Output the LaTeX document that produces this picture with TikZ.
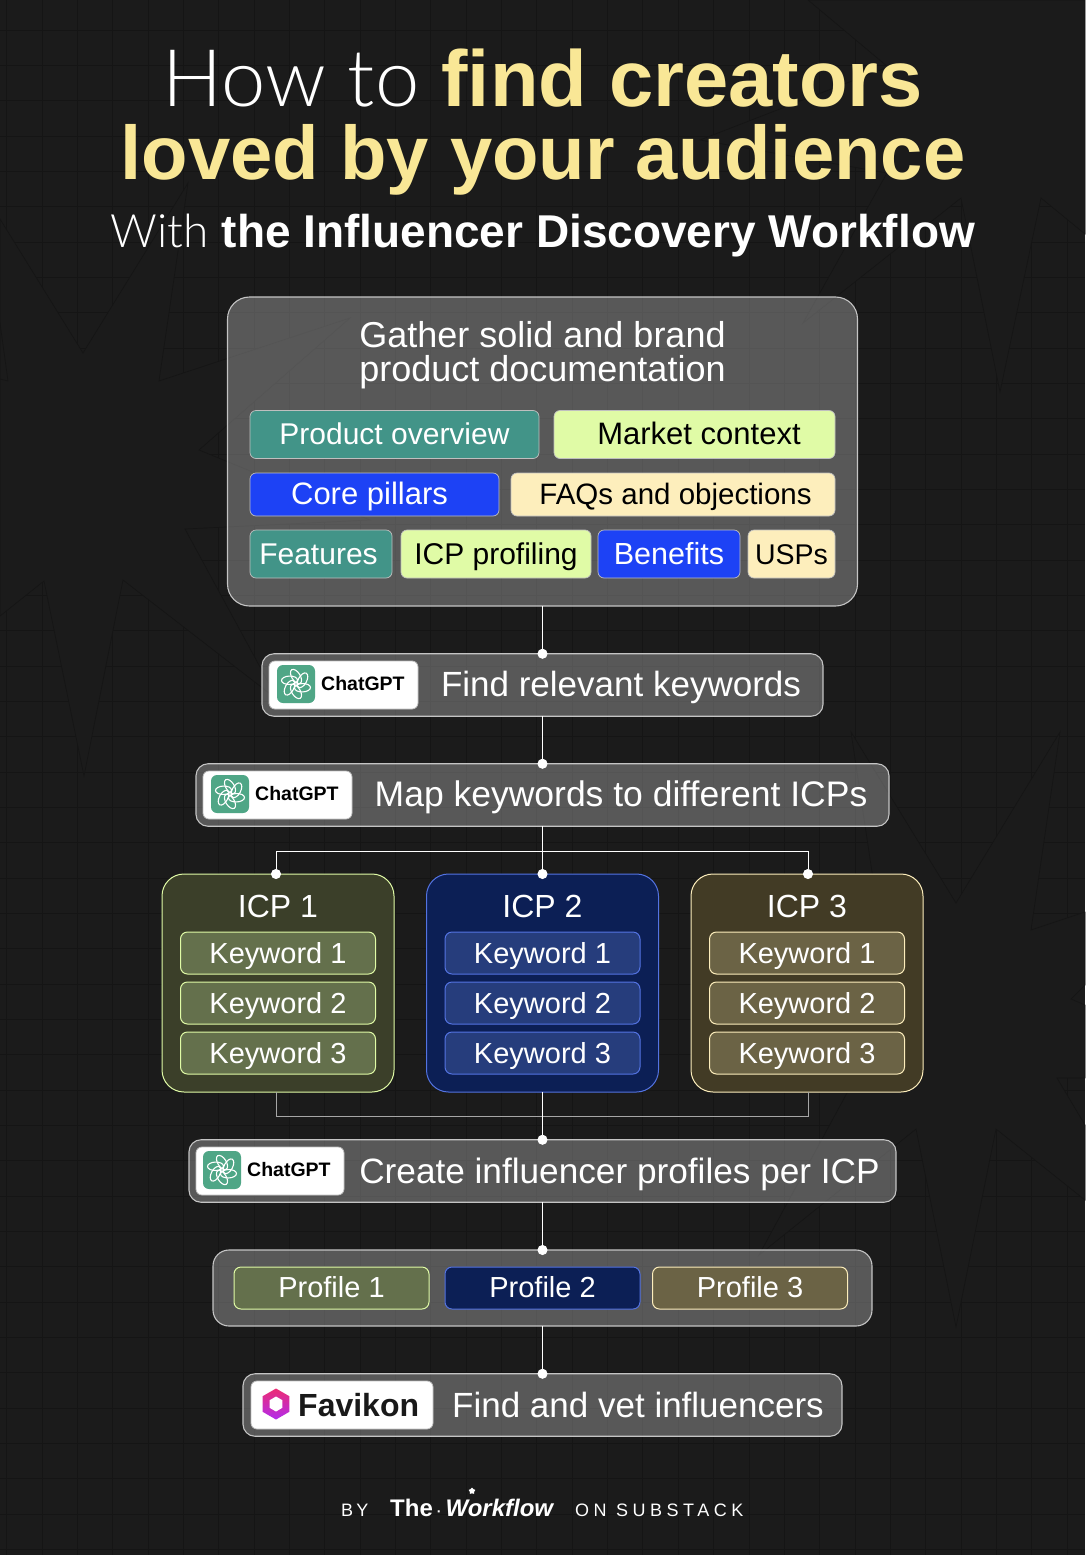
\documentclass[tikz,border=0pt]{standalone}
\usepackage{fontspec}
\setmainfont{Liberation Sans}
\newfontfamily\lightfont{Lato}[UprightFont=* Light]
\usetikzlibrary{arrows.meta, positioning, calc, shapes.geometric}
\definecolor{pagebg}{HTML}{1B1B1B}
\definecolor{gridline}{HTML}{151515}
\definecolor{headyellow}{HTML}{F9E796}
\definecolor{panelline}{HTML}{C4C4C4}
\definecolor{tealtag}{HTML}{429488}
\definecolor{limetag}{HTML}{E0FBA6}
\definecolor{bluetag}{HTML}{1D42F5}
\definecolor{creamtag}{HTML}{FDEEBC}
\definecolor{olivebox}{HTML}{3B3F29}
\definecolor{olivekey}{HTML}{64704C}
\definecolor{navybox}{HTML}{0C1F55}
\definecolor{navykey}{HTML}{263D7C}
\definecolor{navyline}{HTML}{5373E2}
\definecolor{brownbox}{HTML}{423B25}
\definecolor{brownkey}{HTML}{6B6345}
\definecolor{gptgreen}{HTML}{4FA686}
\definecolor{favpink}{HTML}{EC2C74}
\definecolor{favpurple}{HTML}{B22CEC}
\newcommand{\fsize}[1]{\fontsize{#1}{#1}\selectfont}
\begin{document}
\begin{tikzpicture}[
        x=1pt, y=-1pt, node distance=8pt,
        panel/.style={rectangle, draw=panelline, line width=1.1pt, fill=white, fill opacity=.27, text opacity=1, text=white, rounded corners=12pt, outer sep=0pt},
        tag/.style={rectangle, draw=white!75!black, line width=.7pt, rounded corners=6pt, outer sep=0pt, inner sep=0pt, text height=21pt, text depth=1pt},
        teal tag/.style={tag, fill=tealtag, text=white},
        lime tag/.style={tag, fill=limetag, text=black},
        blue tag/.style={tag, fill=bluetag, text=white},
        cream tag/.style={tag, fill=creamtag, text=black},
        icp/.style={rectangle, line width=1pt, rounded corners=22pt, minimum width=232pt, minimum height=218pt, outer sep=0pt},
        keyword/.style={rectangle, line width=1pt, rounded corners=7pt, minimum width=195pt, minimum height=42pt, outer sep=0pt, inner sep=0pt, text=white, text height=21pt, text depth=0pt, font=\fsize{29}},
        chip/.style={rectangle, draw=white!75!black, line width=.8pt, fill=white, rounded corners=6pt, minimum height=48pt, outer sep=0pt},
        steptext/.style={text=white, inner sep=0pt, text height=26pt, text depth=1pt},
        gptname/.style={font=\fsize{19.5}\bfseries, inner sep=0pt, anchor=west},
        wire/.style={draw=white, line width=.8pt},
        dotted wire/.style={wire, -{Circle[length=10pt]}, shorten >=-5pt},
        ridge/.style={draw=gridline, line width=.7pt, fill=pagebg},
        gptlogo/.pic={
            \fill[gptgreen, rounded corners=6pt] (-19,-19) rectangle (19,19);
            \foreach \a in {0,60,...,300}
                \draw[white, line width=1.1pt, rotate=\a, rotate around={32:(0,-7.5)}] (0,-7.5) ellipse [x radius=4.2, y radius=8];
        }
    ]
    \useasboundingbox (0,0) rectangle (1085,1555);
    \fill[pagebg] (0,0) rectangle (1085,1555);

    % background
    \foreach \gx in {6.5,41.85,...,1085}
        \draw[gridline, line width=.7pt] (\gx,0) -- (\gx,1555);
    \foreach \gy in {-5.3,30.03,...,1555}
        \draw[gridline, line width=.7pt] (0,\gy) -- (1085,\gy);
    \draw[ridge] (0,219) -- (83,353) -- (188,183) -- (159,381) -- (350,318) -- (199,450) -- (370,520) -- (185,529) -- (278,700) -- (123,580) -- (84,776) -- (44,581) -- (0,616) -- cycle;
    \draw[ridge] (808,0) -- (888,67) -- (700,140) -- (887,173) -- (803,323) -- (961,198) -- (1000,392) -- (1041,198) -- (1085,234) -- (1085,0) -- cycle;
    \draw[ridge] (851,732) -- (956,903) -- (1060,732) -- (1031,930) -- (1085,912) -- (1085,985) -- (1071,999) -- (1085,1005) -- (1085,1078) -- (1057,1078) -- (1085,1125) -- (1085,1200) -- (996,1129) -- (956,1327) -- (916,1129) -- (759,1255) -- (847,1093) -- (893,1012) -- cycle;
    \draw[ridge, fill=none] (0,323) -- (8,381) -- (0,379);

    % heading
    \node[text=white, font=\fsize{79.5}, inner sep=0pt, anchor=base] (line1) at (543,106) {{\lightfont How to} \textcolor{headyellow}{\textbf{find creators}}};
    \node[text=headyellow, font=\fsize{76}\bfseries, inner sep=0pt, anchor=base] (line2) at (543,179) {loved by your audience};
    \node[text=white, font=\fsize{46}, inner sep=0pt, anchor=base] (subline) at (543,247) {{\lightfont With} \textbf{the Influencer Discovery Workflow}};

    % documentation
    \node[panel, rounded corners=22pt, minimum width=630pt, minimum height=309pt] (docs) at (542.5,451.5) {};
    \node[text=white, font=\fsize{36}, align=center, inner sep=0pt] (docstitle) at (542.5,355) {Gather solid and brand\\[-2pt]product documentation};
    \node[teal tag, font=\fsize{30}, minimum width=289pt, minimum height=48pt] (overview) at (394.5,434.5) {Product overview};
    \node[lime tag, font=\fsize{31}, minimum width=281pt, minimum height=48pt, right=15pt of overview] (market) {\kern9pt Market context};
    \node[blue tag, font=\fsize{31}, minimum width=249pt, minimum height=43pt] (pillars) at (374.5,494.5) {Core pillars\kern10pt};
    \node[cream tag, font=\fsize{29.5}, minimum width=324pt, minimum height=43pt, right=12pt of pillars] (faqs) {\kern5pt FAQs and objections};
    \node[teal tag, font=\fsize{30}, text depth=0pt, minimum width=142pt, minimum height=48pt] (features) at (321,554) {Features\kern5pt};
    \node[lime tag, font=\fsize{30}, text depth=0pt, minimum width=190pt, minimum height=48pt, right=9pt of features] (profiling) {ICP profiling};
    \node[blue tag, font=\fsize{30.5}, text depth=0pt, minimum width=142pt, minimum height=48pt, right=7pt of profiling] (benefits) {Benefits};
    \node[cream tag, font=\fsize{28.5}, text depth=0pt, minimum width=87pt, minimum height=48pt, right=8pt of benefits] (usps) {USPs};

    % keywords step
    \node[panel, minimum width=561pt, minimum height=62.5pt] (findkw) at (542.5,685) {};
    \node[chip, minimum width=149pt] (chip1) at (343.5,685) {};
    \pic at (296,684) {gptlogo};
    \node[gptname] (gpt1) at (321,684) {ChatGPT};
    \node[steptext, font=\fsize{35}] (findkwtext) at (621,684) {Find relevant keywords};

    \node[panel, minimum width=693pt, minimum height=62.5pt] (mapkw) at (542.5,795) {};
    \node[chip, minimum width=149pt] (chip2) at (277.5,795) {};
    \pic at (230,794) {gptlogo};
    \node[gptname] (gpt2) at (255,794) {ChatGPT};
    \node[steptext, font=\fsize{35.5}] (mapkwtext) at (621,794) {Map keywords to different ICPs};

    % icp columns
    \foreach \n/\cx/\boxc/\linec/\keyc in {1/278/olivebox/limetag/olivekey, 2/542.5/navybox/navyline/navykey, 3/807/brownbox/creamtag/brownkey} {
        \node[icp, fill=\boxc, draw=\linec] (icp\n) at (\cx,983) {};
        \node[text=white, font=\fsize{32}, inner sep=0pt, anchor=base] (icptitle\n) at (\cx,917) {ICP \n};
        \node[keyword, fill=\keyc, draw=\linec] (key\n a) at (\cx,953) {Keyword 1};
        \node[keyword, fill=\keyc, draw=\linec] (key\n b) at (\cx,1003) {Keyword 2};
        \node[keyword, fill=\keyc, draw=\linec] (key\n c) at (\cx,1053) {Keyword 3};
    }

    % profiles step
    \node[panel, minimum width=707pt, minimum height=62.5pt] (create) at (542.5,1171) {};
    \node[chip, minimum width=148pt] (chip3) at (270,1171) {};
    \pic at (222,1170) {gptlogo};
    \node[gptname] (gpt3) at (247,1170) {ChatGPT};
    \node[steptext, font=\fsize{35.2}] (createtext) at (619.5,1171) {Create influencer profiles per ICP};

    \node[panel, rounded corners=16pt, minimum width=659pt, minimum height=76pt] (profiles) at (542.5,1288) {};
    \node[keyword, text depth=2pt, fill=olivekey, draw=limetag] (profile1) at (331.5,1288) {Profile 1};
    \node[keyword, text depth=2pt, fill=navybox, draw=navyline] (profile2) at (542.5,1288) {Profile 2};
    \node[keyword, text depth=2pt, fill=brownkey, draw=creamtag] (profile3) at (750,1288) {Profile 3};

    % favikon step
    \node[panel, minimum width=599pt, minimum height=62.5pt] (vet) at (542.5,1405) {};
    \node[chip, minimum width=182pt] (chip4) at (342,1405) {};
    \node[regular polygon, regular polygon sides=6, shape border rotate=30, minimum size=31pt, inner sep=0pt, top color=favpink, bottom color=favpurple] (favhex) at (276,1404) {};
    \node[regular polygon, regular polygon sides=6, shape border rotate=30, minimum size=15pt, inner sep=0pt, fill=white] (favhole) at (276,1404) {};
    \node[font=\fsize{32}\bfseries, text=black!90, inner sep=0pt, anchor=west] (favname) at (298,1405) {Favikon};
    \node[steptext, font=\fsize{35}] (vettext) at (638,1405) {Find and vet influencers};

    % connectors
    \draw[dotted wire] (docs.south) -- (findkw.north);
    \draw[dotted wire] (findkw.south) -- (mapkw.north);
    \draw[dotted wire] (mapkw.south) -- (icp2.north);
    \coordinate (splitl) at ($(icp1.north)+(-2,-23)$);
    \coordinate (splitr) at ($(icp3.north)+(1,-23)$);
    \draw[wire] (splitl) -- (splitr);
    \draw[dotted wire] (splitl) -- (splitl |- icp1.north);
    \draw[dotted wire] (splitr) -- (splitr |- icp3.north);
    \coordinate (joinl) at ($(icp1.south)+(-2,24)$);
    \coordinate (joinr) at ($(icp3.south)+(1,24)$);
    \draw[wire, draw=white!65!black] (joinl |- icp1.south) -- (joinl) -- (joinr) -- (joinr |- icp3.south);
    \draw[dotted wire] (icp2.south) -- (create.north);
    \draw[dotted wire] (create.south) -- (profiles.north);
    \draw[dotted wire] (profiles.south) -- (vet.north);

    % footer
    \node[text=white, font=\fsize{18}\addfontfeature{LetterSpace=18}, inner sep=0pt, anchor=west] (byword) at (341,1510) {BY};
    \node[text=white, font=\fsize{24}\bfseries, inner sep=0pt, anchor=west] (brand) at (390,1508) {The\,{\fsize{14}·}\,\textit{Workflow}};
    \node[star, star points=5, minimum size=7pt, inner sep=0pt, fill=white] (spark) at (472,1491) {};
    \node[text=white, font=\fsize{18}\addfontfeature{LetterSpace=25}, inner sep=0pt, anchor=west] (substack) at (575,1510) {ON SUBSTACK};
\end{tikzpicture}
\end{document}
